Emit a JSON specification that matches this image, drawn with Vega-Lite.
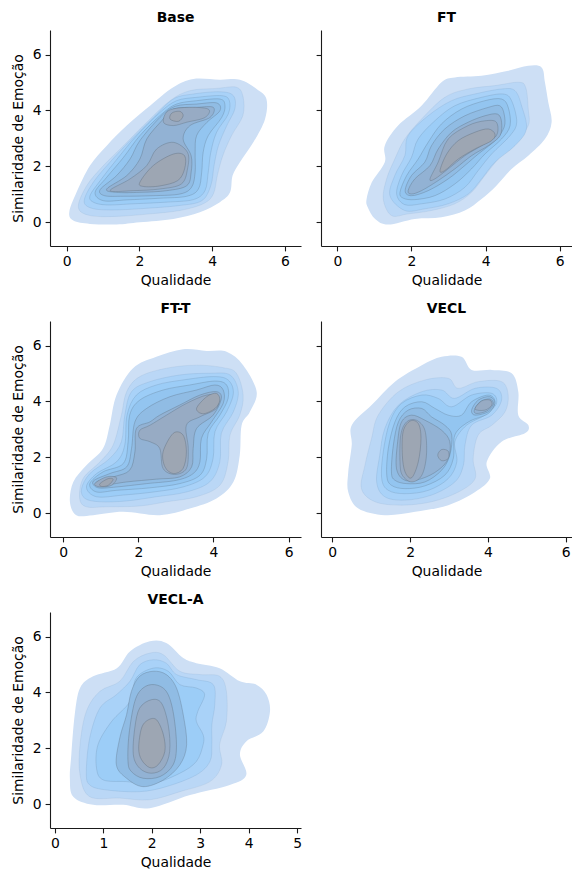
{
"$schema": "https://vega.github.io/schema/vega-lite/v6.json",
"padding": {"left": 11, "top": 11, "right": 0, "bottom": 0},
"datasets": {
"Base": [
{"l":1,"g":"1","x":0.07,"y":0.36},{"l":1,"g":"1","x":0.27,"y":1.07},{"l":1,"g":"1","x":0.64,"y":2.03},{"l":1,"g":"1","x":1.10,"y":2.74},{"l":1,"g":"1","x":1.65,"y":3.46},{"l":1,"g":"1","x":2.29,"y":4.17},{"l":1,"g":"1","x":2.93,"y":4.83},{"l":1,"g":"1","x":3.48,"y":5.13},{"l":1,"g":"1","x":4.21,"y":5.10},{"l":1,"g":"1","x":4.76,"y":5.10},{"l":1,"g":"1","x":5.22,"y":4.77},{"l":1,"g":"1","x":5.49,"y":4.41},{"l":1,"g":"1","x":5.45,"y":3.69},{"l":1,"g":"1","x":5.13,"y":2.86},{"l":1,"g":"1","x":4.76,"y":2.15},{"l":1,"g":"1","x":4.56,"y":1.67},{"l":1,"g":"1","x":4.49,"y":1.07},{"l":1,"g":"1","x":4.21,"y":0.72},{"l":1,"g":"1","x":3.66,"y":0.36},{"l":1,"g":"1","x":2.93,"y":0.12},{"l":1,"g":"1","x":2.01,"y":0.0},{"l":1,"g":"1","x":1.37,"y":-0.08},{"l":1,"g":"1","x":0.64,"y":-0.06},{"l":1,"g":"1","x":0.18,"y":0.06},
{"l":2,"g":"2","x":0.32,"y":0.54},{"l":2,"g":"2","x":0.55,"y":1.31},{"l":2,"g":"2","x":1.01,"y":2.03},{"l":2,"g":"2","x":1.56,"y":2.74},{"l":2,"g":"2","x":2.20,"y":3.58},{"l":2,"g":"2","x":2.84,"y":4.35},{"l":2,"g":"2","x":3.39,"y":4.71},{"l":2,"g":"2","x":4.12,"y":4.79},{"l":2,"g":"2","x":4.67,"y":4.83},{"l":2,"g":"2","x":4.85,"y":4.47},{"l":2,"g":"2","x":4.84,"y":3.81},{"l":2,"g":"2","x":4.53,"y":3.10},{"l":2,"g":"2","x":4.29,"y":2.38},{"l":2,"g":"2","x":4.14,"y":1.67},{"l":2,"g":"2","x":4.03,"y":1.01},{"l":2,"g":"2","x":3.75,"y":0.66},{"l":2,"g":"2","x":3.11,"y":0.42},{"l":2,"g":"2","x":2.29,"y":0.30},{"l":2,"g":"2","x":1.37,"y":0.21},{"l":2,"g":"2","x":0.64,"y":0.24},
{"l":3,"g":"3","x":0.48,"y":0.77},{"l":3,"g":"3","x":0.73,"y":1.43},{"l":3,"g":"3","x":1.19,"y":2.15},{"l":3,"g":"3","x":1.74,"y":2.92},{"l":3,"g":"3","x":2.38,"y":3.75},{"l":3,"g":"3","x":2.93,"y":4.41},{"l":3,"g":"3","x":3.48,"y":4.59},{"l":3,"g":"3","x":4.21,"y":4.67},{"l":3,"g":"3","x":4.58,"y":4.53},{"l":3,"g":"3","x":4.62,"y":4.05},{"l":3,"g":"3","x":4.40,"y":3.46},{"l":3,"g":"3","x":4.17,"y":2.74},{"l":3,"g":"3","x":4.05,"y":2.03},{"l":3,"g":"3","x":3.96,"y":1.31},{"l":3,"g":"3","x":3.71,"y":0.77},{"l":3,"g":"3","x":3.11,"y":0.60},{"l":3,"g":"3","x":2.20,"y":0.50},{"l":3,"g":"3","x":1.28,"y":0.44},{"l":3,"g":"3","x":0.69,"y":0.50},
{"l":4,"g":"4","x":0.64,"y":0.95},{"l":4,"g":"4","x":0.92,"y":1.49},{"l":4,"g":"4","x":1.42,"y":2.32},{"l":4,"g":"4","x":1.92,"y":3.10},{"l":4,"g":"4","x":2.56,"y":3.93},{"l":4,"g":"4","x":3.02,"y":4.35},{"l":4,"g":"4","x":3.57,"y":4.47},{"l":4,"g":"4","x":4.26,"y":4.53},{"l":4,"g":"4","x":4.47,"y":4.35},{"l":4,"g":"4","x":4.44,"y":3.87},{"l":4,"g":"4","x":4.12,"y":3.22},{"l":4,"g":"4","x":3.96,"y":2.50},{"l":4,"g":"4","x":3.89,"y":1.79},{"l":4,"g":"4","x":3.80,"y":1.13},{"l":4,"g":"4","x":3.48,"y":0.81},{"l":4,"g":"4","x":2.75,"y":0.72},{"l":4,"g":"4","x":1.83,"y":0.66},{"l":4,"g":"4","x":1.10,"y":0.62},{"l":4,"g":"4","x":0.73,"y":0.72},
{"l":5,"g":"5","x":0.78,"y":1.07},{"l":5,"g":"5","x":1.10,"y":1.61},{"l":5,"g":"5","x":1.56,"y":2.32},{"l":5,"g":"5","x":2.01,"y":3.10},{"l":5,"g":"5","x":2.61,"y":3.87},{"l":5,"g":"5","x":3.02,"y":4.23},{"l":5,"g":"5","x":3.57,"y":4.35},{"l":5,"g":"5","x":4.21,"y":4.41},{"l":5,"g":"5","x":4.35,"y":4.17},{"l":5,"g":"5","x":4.26,"y":3.75},{"l":5,"g":"5","x":3.89,"y":3.10},{"l":5,"g":"5","x":3.75,"y":2.50},{"l":5,"g":"5","x":3.71,"y":1.79},{"l":5,"g":"5","x":3.62,"y":1.19},{"l":5,"g":"5","x":3.30,"y":0.93},{"l":5,"g":"5","x":2.56,"y":0.86},{"l":5,"g":"5","x":1.65,"y":0.80},{"l":5,"g":"5","x":1.01,"y":0.77},
{"l":6,"g":"6","x":0.92,"y":1.17},{"l":6,"g":"6","x":1.37,"y":1.67},{"l":6,"g":"6","x":1.74,"y":2.26},{"l":6,"g":"6","x":2.01,"y":2.92},{"l":6,"g":"6","x":2.56,"y":3.75},{"l":6,"g":"6","x":2.98,"y":4.15},{"l":6,"g":"6","x":3.57,"y":4.23},{"l":6,"g":"6","x":4.12,"y":4.27},{"l":6,"g":"6","x":4.21,"y":3.99},{"l":6,"g":"6","x":3.85,"y":3.57},{"l":6,"g":"6","x":3.57,"y":3.10},{"l":6,"g":"6","x":3.53,"y":2.50},{"l":6,"g":"6","x":3.53,"y":1.79},{"l":6,"g":"6","x":3.43,"y":1.25},{"l":6,"g":"6","x":3.11,"y":1.01},{"l":6,"g":"6","x":2.38,"y":0.95},{"l":6,"g":"6","x":1.56,"y":0.93},{"l":6,"g":"6","x":1.04,"y":0.95},
{"l":7,"g":"7","x":1.10,"y":1.19},{"l":7,"g":"7","x":1.65,"y":1.67},{"l":7,"g":"7","x":2.01,"y":2.26},{"l":7,"g":"7","x":2.20,"y":2.98},{"l":7,"g":"7","x":2.61,"y":3.63},{"l":7,"g":"7","x":2.93,"y":4.05},{"l":7,"g":"7","x":3.57,"y":4.11},{"l":7,"g":"7","x":4.03,"y":4.11},{"l":7,"g":"7","x":3.94,"y":3.75},{"l":7,"g":"7","x":3.39,"y":3.46},{"l":7,"g":"7","x":3.20,"y":2.98},{"l":7,"g":"7","x":3.42,"y":2.38},{"l":7,"g":"7","x":3.42,"y":1.79},{"l":7,"g":"7","x":3.30,"y":1.31},{"l":7,"g":"7","x":2.75,"y":1.13},{"l":7,"g":"7","x":2.01,"y":1.07},{"l":7,"g":"7","x":1.37,"y":1.07},
{"l":8,"g":"8a","x":2.66,"y":3.58},{"l":8,"g":"8a","x":2.79,"y":3.99},{"l":8,"g":"8a","x":3.30,"y":4.11},{"l":8,"g":"8a","x":3.89,"y":4.05},{"l":8,"g":"8a","x":3.80,"y":3.75},{"l":8,"g":"8a","x":3.30,"y":3.58},{"l":8,"g":"8a","x":2.93,"y":3.46},
{"l":8,"g":"8b","x":1.19,"y":1.13},{"l":8,"g":"8b","x":1.74,"y":1.55},{"l":8,"g":"8b","x":2.20,"y":2.03},{"l":8,"g":"8b","x":2.47,"y":2.62},{"l":8,"g":"8b","x":2.93,"y":2.86},{"l":8,"g":"8b","x":3.32,"y":2.50},{"l":8,"g":"8b","x":3.32,"y":1.91},{"l":8,"g":"8b","x":3.15,"y":1.37},{"l":8,"g":"8b","x":2.56,"y":1.19},{"l":8,"g":"8b","x":1.83,"y":1.13},
{"l":9,"g":"9a","x":2.84,"y":3.69},{"l":9,"g":"9a","x":2.89,"y":3.91},{"l":9,"g":"9a","x":3.11,"y":3.97},{"l":9,"g":"9a","x":3.20,"y":3.81},{"l":9,"g":"9a","x":3.07,"y":3.61},
{"l":9,"g":"9b","x":2.01,"y":1.43},{"l":9,"g":"9b","x":2.38,"y":2.03},{"l":9,"g":"9b","x":2.93,"y":2.44},{"l":9,"g":"9b","x":3.24,"y":2.38},{"l":9,"g":"9b","x":3.24,"y":1.91},{"l":9,"g":"9b","x":3.05,"y":1.49},{"l":9,"g":"9b","x":2.56,"y":1.30},{"l":9,"g":"9b","x":2.11,"y":1.28}
],
"FT": [
{"l":1,"g":"1","x":0.79,"y":0.83},{"l":1,"g":"1","x":0.93,"y":1.43},{"l":1,"g":"1","x":1.28,"y":2.15},{"l":1,"g":"1","x":1.28,"y":2.74},{"l":1,"g":"1","x":1.64,"y":3.46},{"l":1,"g":"1","x":2.27,"y":4.17},{"l":1,"g":"1","x":2.81,"y":5.01},{"l":1,"g":"1","x":3.17,"y":5.18},{"l":1,"g":"1","x":3.89,"y":5.24},{"l":1,"g":"1","x":4.61,"y":5.42},{"l":1,"g":"1","x":5.15,"y":5.60},{"l":1,"g":"1","x":5.51,"y":5.54},{"l":1,"g":"1","x":5.60,"y":5.01},{"l":1,"g":"1","x":5.69,"y":4.29},{"l":1,"g":"1","x":5.78,"y":3.58},{"l":1,"g":"1","x":5.60,"y":2.98},{"l":1,"g":"1","x":5.15,"y":2.38},{"l":1,"g":"1","x":4.70,"y":1.91},{"l":1,"g":"1","x":4.29,"y":1.31},{"l":1,"g":"1","x":3.89,"y":0.83},{"l":1,"g":"1","x":3.44,"y":0.42},{"l":1,"g":"1","x":2.81,"y":0.18},{"l":1,"g":"1","x":2.09,"y":0.12},{"l":1,"g":"1","x":1.37,"y":-0.08},{"l":1,"g":"1","x":1.02,"y":0.12},{"l":1,"g":"1","x":0.82,"y":0.54},
{"l":2,"g":"2","x":1.24,"y":0.83},{"l":2,"g":"2","x":1.33,"y":1.55},{"l":2,"g":"2","x":1.55,"y":2.26},{"l":2,"g":"2","x":1.82,"y":2.98},{"l":2,"g":"2","x":2.27,"y":3.69},{"l":2,"g":"2","x":2.90,"y":4.47},{"l":2,"g":"2","x":3.53,"y":4.77},{"l":2,"g":"2","x":4.25,"y":4.89},{"l":2,"g":"2","x":4.88,"y":5.01},{"l":2,"g":"2","x":5.08,"y":4.83},{"l":2,"g":"2","x":5.15,"y":4.05},{"l":2,"g":"2","x":5.15,"y":3.46},{"l":2,"g":"2","x":4.79,"y":2.86},{"l":2,"g":"2","x":4.34,"y":2.26},{"l":2,"g":"2","x":3.98,"y":1.67},{"l":2,"g":"2","x":3.62,"y":1.07},{"l":2,"g":"2","x":3.17,"y":0.66},{"l":2,"g":"2","x":2.54,"y":0.42},{"l":2,"g":"2","x":1.91,"y":0.30},{"l":2,"g":"2","x":1.46,"y":0.24},
{"l":3,"g":"3","x":1.42,"y":0.95},{"l":3,"g":"3","x":1.55,"y":1.67},{"l":3,"g":"3","x":1.82,"y":2.38},{"l":3,"g":"3","x":1.91,"y":3.10},{"l":3,"g":"3","x":2.45,"y":3.81},{"l":3,"g":"3","x":3.08,"y":4.35},{"l":3,"g":"3","x":3.71,"y":4.59},{"l":3,"g":"3","x":4.43,"y":4.77},{"l":3,"g":"3","x":4.79,"y":4.71},{"l":3,"g":"3","x":4.97,"y":4.17},{"l":3,"g":"3","x":5.10,"y":3.34},{"l":3,"g":"3","x":4.79,"y":2.74},{"l":3,"g":"3","x":4.25,"y":2.15},{"l":3,"g":"3","x":3.89,"y":1.55},{"l":3,"g":"3","x":3.53,"y":1.01},{"l":3,"g":"3","x":2.99,"y":0.66},{"l":3,"g":"3","x":2.36,"y":0.48},{"l":3,"g":"3","x":1.82,"y":0.42},
{"l":4,"g":"4","x":1.60,"y":1.01},{"l":4,"g":"4","x":1.73,"y":1.67},{"l":4,"g":"4","x":2.00,"y":2.32},{"l":4,"g":"4","x":2.18,"y":2.98},{"l":4,"g":"4","x":2.63,"y":3.63},{"l":4,"g":"4","x":3.17,"y":4.17},{"l":4,"g":"4","x":3.89,"y":4.47},{"l":4,"g":"4","x":4.47,"y":4.59},{"l":4,"g":"4","x":4.70,"y":4.35},{"l":4,"g":"4","x":4.84,"y":3.58},{"l":4,"g":"4","x":4.66,"y":3.10},{"l":4,"g":"4","x":4.16,"y":2.44},{"l":4,"g":"4","x":3.80,"y":1.85},{"l":4,"g":"4","x":3.44,"y":1.25},{"l":4,"g":"4","x":2.90,"y":0.83},{"l":4,"g":"4","x":2.27,"y":0.66},{"l":4,"g":"4","x":1.82,"y":0.63},
{"l":5,"g":"5","x":1.69,"y":1.07},{"l":5,"g":"5","x":1.87,"y":1.67},{"l":5,"g":"5","x":2.18,"y":2.26},{"l":5,"g":"5","x":2.45,"y":2.86},{"l":5,"g":"5","x":2.81,"y":3.52},{"l":5,"g":"5","x":3.35,"y":4.05},{"l":5,"g":"5","x":3.98,"y":4.35},{"l":5,"g":"5","x":4.43,"y":4.41},{"l":5,"g":"5","x":4.61,"y":4.11},{"l":5,"g":"5","x":4.66,"y":3.46},{"l":5,"g":"5","x":4.43,"y":2.98},{"l":5,"g":"5","x":3.98,"y":2.44},{"l":5,"g":"5","x":3.62,"y":1.91},{"l":5,"g":"5","x":3.17,"y":1.37},{"l":5,"g":"5","x":2.63,"y":0.95},{"l":5,"g":"5","x":2.09,"y":0.81},{"l":5,"g":"5","x":1.78,"y":0.86},
{"l":6,"g":"6","x":1.83,"y":1.13},{"l":6,"g":"6","x":2.00,"y":1.67},{"l":6,"g":"6","x":2.36,"y":2.15},{"l":6,"g":"6","x":2.54,"y":2.74},{"l":6,"g":"6","x":2.90,"y":3.34},{"l":6,"g":"6","x":3.44,"y":3.81},{"l":6,"g":"6","x":4.07,"y":4.11},{"l":6,"g":"6","x":4.38,"y":4.17},{"l":6,"g":"6","x":4.50,"y":3.87},{"l":6,"g":"6","x":4.50,"y":3.40},{"l":6,"g":"6","x":4.25,"y":2.92},{"l":6,"g":"6","x":3.80,"y":2.44},{"l":6,"g":"6","x":3.44,"y":2.03},{"l":6,"g":"6","x":2.99,"y":1.55},{"l":6,"g":"6","x":2.45,"y":1.13},{"l":6,"g":"6","x":2.00,"y":0.95},
{"l":7,"g":"7","x":1.91,"y":1.13},{"l":7,"g":"7","x":2.09,"y":1.55},{"l":7,"g":"7","x":2.50,"y":2.03},{"l":7,"g":"7","x":2.72,"y":2.62},{"l":7,"g":"7","x":3.08,"y":3.22},{"l":7,"g":"7","x":3.53,"y":3.58},{"l":7,"g":"7","x":3.98,"y":3.81},{"l":7,"g":"7","x":4.32,"y":3.87},{"l":7,"g":"7","x":4.43,"y":3.58},{"l":7,"g":"7","x":4.39,"y":3.10},{"l":7,"g":"7","x":4.07,"y":2.74},{"l":7,"g":"7","x":3.62,"y":2.38},{"l":7,"g":"7","x":3.17,"y":1.91},{"l":7,"g":"7","x":2.72,"y":1.49},{"l":7,"g":"7","x":2.27,"y":1.13},{"l":7,"g":"7","x":2.00,"y":1.01},
{"l":8,"g":"8","x":2.50,"y":1.55},{"l":8,"g":"8","x":2.72,"y":2.15},{"l":8,"g":"8","x":2.99,"y":2.98},{"l":8,"g":"8","x":3.53,"y":3.46},{"l":8,"g":"8","x":3.98,"y":3.63},{"l":8,"g":"8","x":4.29,"y":3.58},{"l":8,"g":"8","x":4.29,"y":3.10},{"l":8,"g":"8","x":3.89,"y":2.74},{"l":8,"g":"8","x":3.44,"y":2.38},{"l":8,"g":"8","x":2.99,"y":1.91},{"l":8,"g":"8","x":2.63,"y":1.55},
{"l":9,"g":"9","x":2.77,"y":1.85},{"l":9,"g":"9","x":2.95,"y":2.44},{"l":9,"g":"9","x":3.26,"y":2.92},{"l":9,"g":"9","x":3.71,"y":3.22},{"l":9,"g":"9","x":4.07,"y":3.34},{"l":9,"g":"9","x":4.25,"y":3.16},{"l":9,"g":"9","x":4.16,"y":2.92},{"l":9,"g":"9","x":3.71,"y":2.62},{"l":9,"g":"9","x":3.26,"y":2.26},{"l":9,"g":"9","x":2.90,"y":1.85}
],
"FTT": [
{"l":1,"g":"1","x":0.18,"y":0.41},{"l":1,"g":"1","x":0.27,"y":1.12},{"l":1,"g":"1","x":0.62,"y":1.72},{"l":1,"g":"1","x":1.06,"y":2.32},{"l":1,"g":"1","x":1.24,"y":3.15},{"l":1,"g":"1","x":1.42,"y":4.23},{"l":1,"g":"1","x":1.86,"y":5.19},{"l":1,"g":"1","x":2.48,"y":5.60},{"l":1,"g":"1","x":3.19,"y":5.87},{"l":1,"g":"1","x":3.82,"y":5.81},{"l":1,"g":"1","x":4.35,"y":5.78},{"l":1,"g":"1","x":4.79,"y":5.30},{"l":1,"g":"1","x":5.15,"y":4.35},{"l":1,"g":"1","x":4.97,"y":3.63},{"l":1,"g":"1","x":4.75,"y":3.15},{"l":1,"g":"1","x":4.70,"y":2.08},{"l":1,"g":"1","x":4.53,"y":1.12},{"l":1,"g":"1","x":4.08,"y":0.53},{"l":1,"g":"1","x":3.37,"y":0.17},{"l":1,"g":"1","x":2.57,"y":-0.07},{"l":1,"g":"1","x":1.60,"y":0.05},{"l":1,"g":"1","x":0.80,"y":-0.07},{"l":1,"g":"1","x":0.35,"y":-0.07},
{"l":2,"g":"2","x":0.44,"y":0.53},{"l":2,"g":"2","x":0.53,"y":1.24},{"l":2,"g":"2","x":0.98,"y":1.84},{"l":2,"g":"2","x":1.33,"y":2.44},{"l":2,"g":"2","x":1.55,"y":3.51},{"l":2,"g":"2","x":1.69,"y":4.35},{"l":2,"g":"2","x":2.04,"y":4.89},{"l":2,"g":"2","x":2.75,"y":5.19},{"l":2,"g":"2","x":3.55,"y":5.30},{"l":2,"g":"2","x":4.26,"y":5.21},{"l":2,"g":"2","x":4.61,"y":5.01},{"l":2,"g":"2","x":4.79,"y":4.23},{"l":2,"g":"2","x":4.70,"y":3.51},{"l":2,"g":"2","x":4.44,"y":2.80},{"l":2,"g":"2","x":4.39,"y":1.84},{"l":2,"g":"2","x":4.17,"y":1.00},{"l":2,"g":"2","x":3.55,"y":0.59},{"l":2,"g":"2","x":2.75,"y":0.41},{"l":2,"g":"2","x":2.04,"y":0.26},{"l":2,"g":"2","x":1.15,"y":0.23},{"l":2,"g":"2","x":0.62,"y":0.23},
{"l":3,"g":"3","x":0.49,"y":0.88},{"l":3,"g":"3","x":0.71,"y":1.42},{"l":3,"g":"3","x":1.24,"y":1.96},{"l":3,"g":"3","x":1.55,"y":2.56},{"l":3,"g":"3","x":1.64,"y":3.51},{"l":3,"g":"3","x":1.82,"y":4.35},{"l":3,"g":"3","x":2.31,"y":4.71},{"l":3,"g":"3","x":3.11,"y":4.95},{"l":3,"g":"3","x":3.90,"y":5.01},{"l":3,"g":"3","x":4.44,"y":4.95},{"l":3,"g":"3","x":4.66,"y":4.35},{"l":3,"g":"3","x":4.53,"y":3.63},{"l":3,"g":"3","x":4.21,"y":2.86},{"l":3,"g":"3","x":4.17,"y":1.84},{"l":3,"g":"3","x":3.90,"y":1.12},{"l":3,"g":"3","x":3.28,"y":0.76},{"l":3,"g":"3","x":2.48,"y":0.59},{"l":3,"g":"3","x":1.69,"y":0.44},{"l":3,"g":"3","x":0.98,"y":0.41},{"l":3,"g":"3","x":0.58,"y":0.53},
{"l":4,"g":"4","x":0.62,"y":0.94},{"l":4,"g":"4","x":0.89,"y":1.42},{"l":4,"g":"4","x":1.42,"y":1.84},{"l":4,"g":"4","x":1.64,"y":2.44},{"l":4,"g":"4","x":1.70,"y":3.51},{"l":4,"g":"4","x":1.95,"y":4.23},{"l":4,"g":"4","x":2.48,"y":4.59},{"l":4,"g":"4","x":3.19,"y":4.77},{"l":4,"g":"4","x":3.99,"y":4.89},{"l":4,"g":"4","x":4.39,"y":4.77},{"l":4,"g":"4","x":4.53,"y":4.30},{"l":4,"g":"4","x":4.35,"y":3.63},{"l":4,"g":"4","x":4.04,"y":2.92},{"l":4,"g":"4","x":3.99,"y":1.96},{"l":4,"g":"4","x":3.77,"y":1.30},{"l":4,"g":"4","x":3.19,"y":0.94},{"l":4,"g":"4","x":2.40,"y":0.76},{"l":4,"g":"4","x":1.60,"y":0.65},{"l":4,"g":"4","x":0.89,"y":0.59},
{"l":5,"g":"5","x":0.71,"y":1.06},{"l":5,"g":"5","x":1.06,"y":1.48},{"l":5,"g":"5","x":1.60,"y":1.78},{"l":5,"g":"5","x":1.73,"y":2.56},{"l":5,"g":"5","x":1.77,"y":3.51},{"l":5,"g":"5","x":2.04,"y":4.05},{"l":5,"g":"5","x":2.66,"y":4.41},{"l":5,"g":"5","x":3.37,"y":4.59},{"l":5,"g":"5","x":4.04,"y":4.73},{"l":5,"g":"5","x":4.35,"y":4.59},{"l":5,"g":"5","x":4.39,"y":4.11},{"l":5,"g":"5","x":4.17,"y":3.51},{"l":5,"g":"5","x":3.86,"y":2.86},{"l":5,"g":"5","x":3.82,"y":1.96},{"l":5,"g":"5","x":3.64,"y":1.36},{"l":5,"g":"5","x":3.10,"y":1.06},{"l":5,"g":"5","x":2.31,"y":0.91},{"l":5,"g":"5","x":1.42,"y":0.82},{"l":5,"g":"5","x":0.89,"y":0.76},
{"l":6,"g":"6","x":0.80,"y":1.15},{"l":6,"g":"6","x":1.24,"y":1.42},{"l":6,"g":"6","x":1.69,"y":1.66},{"l":6,"g":"6","x":1.82,"y":2.32},{"l":6,"g":"6","x":1.91,"y":3.27},{"l":6,"g":"6","x":2.22,"y":3.75},{"l":6,"g":"6","x":2.84,"y":4.17},{"l":6,"g":"6","x":3.55,"y":4.41},{"l":6,"g":"6","x":4.04,"y":4.59},{"l":6,"g":"6","x":4.26,"y":4.41},{"l":6,"g":"6","x":4.26,"y":3.93},{"l":6,"g":"6","x":3.95,"y":3.27},{"l":6,"g":"6","x":3.68,"y":2.68},{"l":6,"g":"6","x":3.64,"y":1.84},{"l":6,"g":"6","x":3.46,"y":1.42},{"l":6,"g":"6","x":3.02,"y":1.18},{"l":6,"g":"6","x":2.22,"y":1.06},{"l":6,"g":"6","x":1.42,"y":0.94},{"l":6,"g":"6","x":0.93,"y":0.91},
{"l":7,"g":"7","x":0.89,"y":1.12},{"l":7,"g":"7","x":1.33,"y":1.30},{"l":7,"g":"7","x":1.77,"y":1.54},{"l":7,"g":"7","x":1.91,"y":2.20},{"l":7,"g":"7","x":1.95,"y":3.03},{"l":7,"g":"7","x":2.31,"y":3.27},{"l":7,"g":"7","x":2.57,"y":3.51},{"l":7,"g":"7","x":3.10,"y":3.87},{"l":7,"g":"7","x":3.64,"y":4.23},{"l":7,"g":"7","x":4.08,"y":4.35},{"l":7,"g":"7","x":4.21,"y":4.11},{"l":7,"g":"7","x":3.99,"y":3.51},{"l":7,"g":"7","x":3.55,"y":3.03},{"l":7,"g":"7","x":3.46,"y":2.32},{"l":7,"g":"7","x":3.42,"y":1.66},{"l":7,"g":"7","x":3.10,"y":1.30},{"l":7,"g":"7","x":2.48,"y":1.22},{"l":7,"g":"7","x":1.69,"y":1.12},{"l":7,"g":"7","x":1.06,"y":1.00},
{"l":8,"g":"8a","x":2.04,"y":2.97},{"l":8,"g":"8a","x":2.31,"y":3.15},{"l":8,"g":"8a","x":2.75,"y":3.51},{"l":8,"g":"8a","x":3.28,"y":3.93},{"l":8,"g":"8a","x":3.82,"y":4.23},{"l":8,"g":"8a","x":4.12,"y":4.17},{"l":8,"g":"8a","x":4.08,"y":3.75},{"l":8,"g":"8a","x":3.64,"y":3.45},{"l":8,"g":"8a","x":3.28,"y":3.15},{"l":8,"g":"8a","x":3.33,"y":2.32},{"l":8,"g":"8a","x":3.28,"y":1.60},{"l":8,"g":"8a","x":2.97,"y":1.39},{"l":8,"g":"8a","x":2.66,"y":1.60},{"l":8,"g":"8a","x":2.57,"y":2.32},{"l":8,"g":"8a","x":2.31,"y":2.56},{"l":8,"g":"8a","x":2.04,"y":2.68},
{"l":8,"g":"8b","x":0.84,"y":1.06},{"l":8,"g":"8b","x":1.15,"y":1.30},{"l":8,"g":"8b","x":1.42,"y":1.27},{"l":8,"g":"8b","x":1.29,"y":1.00},{"l":8,"g":"8b","x":0.98,"y":0.94},
{"l":9,"g":"9a","x":3.55,"y":3.75},{"l":9,"g":"9a","x":3.82,"y":4.17},{"l":9,"g":"9a","x":4.08,"y":4.29},{"l":9,"g":"9a","x":4.17,"y":4.05},{"l":9,"g":"9a","x":4.04,"y":3.75},{"l":9,"g":"9a","x":3.73,"y":3.56},
{"l":9,"g":"9b","x":2.66,"y":2.20},{"l":9,"g":"9b","x":2.93,"y":2.86},{"l":9,"g":"9b","x":3.19,"y":2.80},{"l":9,"g":"9b","x":3.28,"y":2.20},{"l":9,"g":"9b","x":3.19,"y":1.60},{"l":9,"g":"9b","x":2.93,"y":1.42},{"l":9,"g":"9b","x":2.71,"y":1.66},
{"l":9,"g":"9c","x":0.98,"y":1.06},{"l":9,"g":"9c","x":1.20,"y":1.24},{"l":9,"g":"9c","x":1.33,"y":1.21},{"l":9,"g":"9c","x":1.20,"y":1.00},{"l":9,"g":"9c","x":1.02,"y":0.96}
],
"VECL": [
{"l":1,"g":"1","x":0.41,"y":0.76},{"l":1,"g":"1","x":0.41,"y":1.48},{"l":1,"g":"1","x":0.50,"y":2.44},{"l":1,"g":"1","x":0.50,"y":3.15},{"l":1,"g":"1","x":1.01,"y":3.87},{"l":1,"g":"1","x":1.61,"y":4.71},{"l":1,"g":"1","x":2.30,"y":5.30},{"l":1,"g":"1","x":2.81,"y":5.60},{"l":1,"g":"1","x":3.32,"y":5.60},{"l":1,"g":"1","x":3.58,"y":5.13},{"l":1,"g":"1","x":4.10,"y":5.13},{"l":1,"g":"1","x":4.61,"y":5.01},{"l":1,"g":"1","x":4.78,"y":4.35},{"l":1,"g":"1","x":4.78,"y":3.51},{"l":1,"g":"1","x":5.04,"y":3.15},{"l":1,"g":"1","x":4.95,"y":2.86},{"l":1,"g":"1","x":4.35,"y":2.56},{"l":1,"g":"1","x":3.97,"y":1.84},{"l":1,"g":"1","x":4.05,"y":1.24},{"l":1,"g":"1","x":3.67,"y":0.76},{"l":1,"g":"1","x":2.98,"y":0.29},{"l":1,"g":"1","x":2.13,"y":0.05},{"l":1,"g":"1","x":1.35,"y":-0.07},{"l":1,"g":"1","x":0.67,"y":0.17},
{"l":2,"g":"2","x":0.75,"y":0.88},{"l":2,"g":"2","x":0.84,"y":1.72},{"l":2,"g":"2","x":1.01,"y":2.68},{"l":2,"g":"2","x":1.18,"y":3.51},{"l":2,"g":"2","x":1.70,"y":4.35},{"l":2,"g":"2","x":2.38,"y":4.77},{"l":2,"g":"2","x":2.98,"y":4.83},{"l":2,"g":"2","x":3.23,"y":4.47},{"l":2,"g":"2","x":3.75,"y":4.71},{"l":2,"g":"2","x":4.35,"y":4.71},{"l":2,"g":"2","x":4.52,"y":4.23},{"l":2,"g":"2","x":4.44,"y":3.63},{"l":2,"g":"2","x":4.10,"y":3.15},{"l":2,"g":"2","x":3.75,"y":2.80},{"l":2,"g":"2","x":3.62,"y":1.96},{"l":2,"g":"2","x":3.67,"y":1.24},{"l":2,"g":"2","x":3.24,"y":0.76},{"l":2,"g":"2","x":2.55,"y":0.41},{"l":2,"g":"2","x":1.78,"y":0.29},{"l":2,"g":"2","x":1.10,"y":0.41},
{"l":3,"g":"3","x":1.14,"y":1.12},{"l":3,"g":"3","x":1.22,"y":2.08},{"l":3,"g":"3","x":1.35,"y":3.03},{"l":3,"g":"3","x":1.70,"y":3.87},{"l":3,"g":"3","x":2.30,"y":4.35},{"l":3,"g":"3","x":2.81,"y":4.41},{"l":3,"g":"3","x":3.14,"y":4.11},{"l":3,"g":"3","x":3.67,"y":4.47},{"l":3,"g":"3","x":4.22,"y":4.47},{"l":3,"g":"3","x":4.35,"y":4.05},{"l":3,"g":"3","x":4.10,"y":3.51},{"l":3,"g":"3","x":3.58,"y":3.15},{"l":3,"g":"3","x":3.41,"y":2.44},{"l":3,"g":"3","x":3.37,"y":1.72},{"l":3,"g":"3","x":3.15,"y":1.12},{"l":3,"g":"3","x":2.55,"y":0.65},{"l":3,"g":"3","x":1.87,"y":0.47},{"l":3,"g":"3","x":1.35,"y":0.59},
{"l":4,"g":"4","x":1.27,"y":1.24},{"l":4,"g":"4","x":1.31,"y":2.20},{"l":4,"g":"4","x":1.48,"y":3.27},{"l":4,"g":"4","x":1.78,"y":3.93},{"l":4,"g":"4","x":2.30,"y":4.23},{"l":4,"g":"4","x":2.72,"y":4.11},{"l":4,"g":"4","x":3.07,"y":3.81},{"l":4,"g":"4","x":3.58,"y":4.23},{"l":4,"g":"4","x":4.10,"y":4.29},{"l":4,"g":"4","x":4.22,"y":3.93},{"l":4,"g":"4","x":3.92,"y":3.51},{"l":4,"g":"4","x":3.45,"y":3.15},{"l":4,"g":"4","x":3.15,"y":2.56},{"l":4,"g":"4","x":3.20,"y":1.84},{"l":4,"g":"4","x":2.98,"y":1.24},{"l":4,"g":"4","x":2.47,"y":0.82},{"l":4,"g":"4","x":1.87,"y":0.70},{"l":4,"g":"4","x":1.44,"y":0.82},
{"l":5,"g":"5","x":1.40,"y":1.36},{"l":5,"g":"5","x":1.44,"y":2.32},{"l":5,"g":"5","x":1.61,"y":3.27},{"l":5,"g":"5","x":1.87,"y":3.81},{"l":5,"g":"5","x":2.30,"y":3.99},{"l":5,"g":"5","x":2.64,"y":3.75},{"l":5,"g":"5","x":2.98,"y":3.51},{"l":5,"g":"5","x":3.32,"y":3.51},{"l":5,"g":"5","x":3.58,"y":3.99},{"l":5,"g":"5","x":4.01,"y":4.23},{"l":5,"g":"5","x":4.18,"y":3.99},{"l":5,"g":"5","x":4.01,"y":3.57},{"l":5,"g":"5","x":3.50,"y":3.27},{"l":5,"g":"5","x":3.15,"y":2.80},{"l":5,"g":"5","x":3.11,"y":1.96},{"l":5,"g":"5","x":2.89,"y":1.36},{"l":5,"g":"5","x":2.38,"y":0.98},{"l":5,"g":"5","x":1.87,"y":0.88},{"l":5,"g":"5","x":1.52,"y":1.00},
{"l":6,"g":"6a","x":1.52,"y":1.48},{"l":6,"g":"6a","x":1.57,"y":2.44},{"l":6,"g":"6a","x":1.70,"y":3.27},{"l":6,"g":"6a","x":1.95,"y":3.69},{"l":6,"g":"6a","x":2.30,"y":3.75},{"l":6,"g":"6a","x":2.55,"y":3.45},{"l":6,"g":"6a","x":2.89,"y":3.15},{"l":6,"g":"6a","x":3.07,"y":2.80},{"l":6,"g":"6a","x":3.02,"y":2.08},{"l":6,"g":"6a","x":2.81,"y":1.54},{"l":6,"g":"6a","x":2.38,"y":1.12},{"l":6,"g":"6a","x":1.91,"y":1.06},{"l":6,"g":"6a","x":1.61,"y":1.18},
{"l":6,"g":"6b","x":3.58,"y":3.69},{"l":6,"g":"6b","x":3.75,"y":4.05},{"l":6,"g":"6b","x":4.05,"y":4.17},{"l":6,"g":"6b","x":4.18,"y":3.93},{"l":6,"g":"6b","x":4.01,"y":3.63},{"l":6,"g":"6b","x":3.67,"y":3.51},
{"l":7,"g":"7a","x":1.65,"y":1.60},{"l":7,"g":"7a","x":1.68,"y":2.56},{"l":7,"g":"7a","x":1.78,"y":3.27},{"l":7,"g":"7a","x":2.04,"y":3.51},{"l":7,"g":"7a","x":2.38,"y":3.33},{"l":7,"g":"7a","x":2.81,"y":2.97},{"l":7,"g":"7a","x":3.02,"y":2.56},{"l":7,"g":"7a","x":2.98,"y":1.96},{"l":7,"g":"7a","x":2.72,"y":1.54},{"l":7,"g":"7a","x":2.30,"y":1.24},{"l":7,"g":"7a","x":1.87,"y":1.18},
{"l":7,"g":"7b","x":3.65,"y":3.69},{"l":7,"g":"7b","x":3.80,"y":3.99},{"l":7,"g":"7b","x":4.05,"y":4.09},{"l":7,"g":"7b","x":4.14,"y":3.90},{"l":7,"g":"7b","x":3.97,"y":3.66},{"l":7,"g":"7b","x":3.71,"y":3.57},
{"l":8,"g":"8a","x":1.74,"y":1.84},{"l":8,"g":"8a","x":1.76,"y":2.80},{"l":8,"g":"8a","x":1.91,"y":3.27},{"l":8,"g":"8a","x":2.16,"y":3.33},{"l":8,"g":"8a","x":2.38,"y":2.97},{"l":8,"g":"8a","x":2.42,"y":2.08},{"l":8,"g":"8a","x":2.30,"y":1.36},{"l":8,"g":"8a","x":2.04,"y":1.12},{"l":8,"g":"8a","x":1.80,"y":1.36},
{"l":8,"g":"8b","x":2.71,"y":2.08},{"l":8,"g":"8b","x":2.81,"y":2.28},{"l":8,"g":"8b","x":2.98,"y":2.22},{"l":8,"g":"8b","x":2.98,"y":1.96},{"l":8,"g":"8b","x":2.81,"y":1.88},
{"l":8,"g":"8c","x":3.67,"y":3.73},{"l":8,"g":"8c","x":3.84,"y":4.02},{"l":8,"g":"8c","x":4.05,"y":4.05},{"l":8,"g":"8c","x":4.10,"y":3.87},{"l":8,"g":"8c","x":3.92,"y":3.69},
{"l":9,"g":"9","x":1.80,"y":2.08},{"l":9,"g":"9","x":1.82,"y":2.92},{"l":9,"g":"9","x":2.00,"y":3.30},{"l":9,"g":"9","x":2.21,"y":3.21},{"l":9,"g":"9","x":2.28,"y":2.68},{"l":9,"g":"9","x":2.21,"y":1.84},{"l":9,"g":"9","x":2.04,"y":1.27},{"l":9,"g":"9","x":1.87,"y":1.48}
],
"VECLA": [
{"l":1,"g":"1","x":0.31,"y":0.93},{"l":1,"g":"1","x":0.34,"y":1.77},{"l":1,"g":"1","x":0.41,"y":3.20},{"l":1,"g":"1","x":0.52,"y":4.16},{"l":1,"g":"1","x":0.79,"y":4.58},{"l":1,"g":"1","x":1.28,"y":4.87},{"l":1,"g":"1","x":1.55,"y":5.47},{"l":1,"g":"1","x":1.96,"y":5.83},{"l":1,"g":"1","x":2.30,"y":5.77},{"l":1,"g":"1","x":2.65,"y":5.23},{"l":1,"g":"1","x":2.92,"y":5.05},{"l":1,"g":"1","x":3.40,"y":4.87},{"l":1,"g":"1","x":3.82,"y":4.40},{"l":1,"g":"1","x":4.16,"y":4.28},{"l":1,"g":"1","x":4.37,"y":3.92},{"l":1,"g":"1","x":4.44,"y":3.32},{"l":1,"g":"1","x":4.30,"y":2.60},{"l":1,"g":"1","x":3.95,"y":2.25},{"l":1,"g":"1","x":3.82,"y":1.77},{"l":1,"g":"1","x":3.95,"y":1.05},{"l":1,"g":"1","x":3.61,"y":0.69},{"l":1,"g":"1","x":2.79,"y":0.33},{"l":1,"g":"1","x":1.96,"y":-0.14},{"l":1,"g":"1","x":1.41,"y":-0.02},{"l":1,"g":"1","x":0.79,"y":-0.02},{"l":1,"g":"1","x":0.38,"y":0.27},
{"l":2,"g":"2","x":0.52,"y":1.05},{"l":2,"g":"2","x":0.52,"y":2.13},{"l":2,"g":"2","x":0.65,"y":3.32},{"l":2,"g":"2","x":0.93,"y":4.04},{"l":2,"g":"2","x":1.34,"y":4.40},{"l":2,"g":"2","x":1.62,"y":5.11},{"l":2,"g":"2","x":1.96,"y":5.41},{"l":2,"g":"2","x":2.24,"y":5.35},{"l":2,"g":"2","x":2.58,"y":4.76},{"l":2,"g":"2","x":3.00,"y":4.64},{"l":2,"g":"2","x":3.40,"y":4.58},{"l":2,"g":"2","x":3.54,"y":4.04},{"l":2,"g":"2","x":3.54,"y":2.96},{"l":2,"g":"2","x":3.40,"y":2.13},{"l":2,"g":"2","x":3.44,"y":1.41},{"l":2,"g":"2","x":3.20,"y":0.81},{"l":2,"g":"2","x":2.58,"y":0.45},{"l":2,"g":"2","x":1.96,"y":0.16},{"l":2,"g":"2","x":1.34,"y":0.22},{"l":2,"g":"2","x":0.72,"y":0.27},
{"l":3,"g":"3","x":0.65,"y":1.17},{"l":3,"g":"3","x":0.72,"y":2.37},{"l":3,"g":"3","x":0.93,"y":3.44},{"l":3,"g":"3","x":1.27,"y":3.92},{"l":3,"g":"3","x":1.55,"y":4.40},{"l":3,"g":"3","x":1.75,"y":4.99},{"l":3,"g":"3","x":2.03,"y":5.17},{"l":3,"g":"3","x":2.30,"y":5.05},{"l":3,"g":"3","x":2.51,"y":4.64},{"l":3,"g":"3","x":2.92,"y":4.46},{"l":3,"g":"3","x":3.27,"y":4.28},{"l":3,"g":"3","x":3.30,"y":3.56},{"l":3,"g":"3","x":3.24,"y":2.84},{"l":3,"g":"3","x":3.24,"y":2.13},{"l":3,"g":"3","x":3.20,"y":1.53},{"l":3,"g":"3","x":2.92,"y":1.05},{"l":3,"g":"3","x":2.30,"y":0.63},{"l":3,"g":"3","x":1.75,"y":0.45},{"l":3,"g":"3","x":1.07,"y":0.51},{"l":3,"g":"3","x":0.72,"y":0.69},
{"l":4,"g":"4","x":0.86,"y":1.29},{"l":4,"g":"4","x":0.89,"y":2.13},{"l":4,"g":"4","x":1.17,"y":2.96},{"l":4,"g":"4","x":1.55,"y":3.68},{"l":4,"g":"4","x":1.68,"y":4.52},{"l":4,"g":"4","x":2.03,"y":4.87},{"l":4,"g":"4","x":2.34,"y":4.76},{"l":4,"g":"4","x":2.58,"y":4.28},{"l":4,"g":"4","x":2.92,"y":4.16},{"l":4,"g":"4","x":3.09,"y":3.92},{"l":4,"g":"4","x":2.95,"y":3.32},{"l":4,"g":"4","x":2.92,"y":2.96},{"l":4,"g":"4","x":3.06,"y":2.49},{"l":4,"g":"4","x":3.06,"y":2.13},{"l":4,"g":"4","x":2.92,"y":1.53},{"l":4,"g":"4","x":2.58,"y":1.11},{"l":4,"g":"4","x":2.03,"y":0.75},{"l":4,"g":"4","x":1.48,"y":0.81},{"l":4,"g":"4","x":1.00,"y":0.87},
{"l":6,"g":"5","x":1.27,"y":1.41},{"l":6,"g":"5","x":1.34,"y":2.37},{"l":6,"g":"5","x":1.48,"y":3.20},{"l":6,"g":"5","x":1.58,"y":4.04},{"l":6,"g":"5","x":1.75,"y":4.58},{"l":6,"g":"5","x":2.03,"y":4.76},{"l":6,"g":"5","x":2.30,"y":4.64},{"l":6,"g":"5","x":2.51,"y":4.16},{"l":6,"g":"5","x":2.65,"y":3.20},{"l":6,"g":"5","x":2.72,"y":2.13},{"l":6,"g":"5","x":2.58,"y":1.41},{"l":6,"g":"5","x":2.24,"y":0.87},{"l":6,"g":"5","x":1.82,"y":0.63},{"l":6,"g":"5","x":1.48,"y":0.93},
{"l":7,"g":"6","x":1.51,"y":1.53},{"l":7,"g":"6","x":1.53,"y":2.49},{"l":7,"g":"6","x":1.65,"y":3.68},{"l":7,"g":"6","x":1.82,"y":4.16},{"l":7,"g":"6","x":2.06,"y":4.28},{"l":7,"g":"6","x":2.30,"y":4.04},{"l":7,"g":"6","x":2.44,"y":3.32},{"l":7,"g":"6","x":2.51,"y":2.13},{"l":7,"g":"6","x":2.44,"y":1.41},{"l":7,"g":"6","x":2.17,"y":0.99},{"l":7,"g":"6","x":1.82,"y":0.93},{"l":7,"g":"6","x":1.58,"y":1.17},
{"l":8,"g":"7","x":1.62,"y":1.77},{"l":8,"g":"7","x":1.65,"y":2.73},{"l":8,"g":"7","x":1.75,"y":3.44},{"l":8,"g":"7","x":1.99,"y":3.74},{"l":8,"g":"7","x":2.20,"y":3.62},{"l":8,"g":"7","x":2.34,"y":2.84},{"l":8,"g":"7","x":2.37,"y":1.89},{"l":8,"g":"7","x":2.24,"y":1.29},{"l":8,"g":"7","x":1.99,"y":1.11},{"l":8,"g":"7","x":1.75,"y":1.29},
{"l":9,"g":"8","x":1.73,"y":2.01},{"l":9,"g":"8","x":1.79,"y":2.73},{"l":9,"g":"8","x":1.93,"y":3.02},{"l":9,"g":"8","x":2.10,"y":3.02},{"l":9,"g":"8","x":2.24,"y":2.49},{"l":9,"g":"8","x":2.27,"y":1.89},{"l":9,"g":"8","x":2.13,"y":1.41},{"l":9,"g":"8","x":1.96,"y":1.31},{"l":9,"g":"8","x":1.79,"y":1.59}
]
},
"concat": [
{"data": {"name": "Base"}, "width": 251, "height": 216, "title": "Base",
 "mark": {"type": "line", "interpolate": "cardinal-closed", "strokeWidth": 0.7},
 "encoding": {
  "x": {"field": "x", "type": "quantitative", "scale": {"domain": [-0.46, 6.44], "nice": false, "zero": false}, "axis": {"values": [0, 2, 4, 6], "title": "Qualidade"}},
  "y": {"field": "y", "type": "quantitative", "scale": {"domain": [-0.85, 6.88], "nice": false, "zero": false}, "axis": {"values": [0, 2, 4, 6], "title": "Similaridade de Emoção"}},
  "fill": {"field": "l", "type": "ordinal", "scale": {"domain": [1,2,3,4,5,6,7,8,9], "range": ["#cddff5","#bad7f6","#a9d2f8","#9ccdf7","#93c5f0","#90bce4","#92b2d4","#97abc4","#9da6b3"]}, "legend": null},
  "stroke": {"field": "l", "type": "ordinal", "scale": {"domain": [1,2,3,4,5,6,7,8,9], "range": ["rgba(0,0,0,0)","rgba(90,130,170,0.15)","rgba(90,130,170,0.22)","rgba(90,120,150,0.3)","rgba(90,110,130,0.4)","rgba(90,105,120,0.45)","rgba(90,105,120,0.5)","rgba(90,105,120,0.5)","rgba(90,105,120,0.55)"]}, "legend": null},
  "detail": {"field": "g"},
  "order": {"value": null}
 }},
{"data": {"name": "FT"}, "width": 251, "height": 216, "title": "FT",
 "mark": {"type": "line", "interpolate": "cardinal-closed", "strokeWidth": 0.7},
 "encoding": {
  "x": {"field": "x", "type": "quantitative", "scale": {"domain": [-0.44, 6.33], "nice": false, "zero": false}, "axis": {"values": [0, 2, 4, 6], "title": "Qualidade"}},
  "y": {"field": "y", "type": "quantitative", "scale": {"domain": [-0.85, 6.88], "nice": false, "zero": false}, "axis": {"values": [0, 2, 4, 6], "title": null, "labels": false}},
  "fill": {"field": "l", "type": "ordinal", "scale": {"domain": [1,2,3,4,5,6,7,8,9], "range": ["#cddff5","#bad7f6","#a9d2f8","#9ccdf7","#93c5f0","#90bce4","#92b2d4","#97abc4","#9da6b3"]}, "legend": null},
  "stroke": {"field": "l", "type": "ordinal", "scale": {"domain": [1,2,3,4,5,6,7,8,9], "range": ["rgba(0,0,0,0)","rgba(90,130,170,0.15)","rgba(90,130,170,0.22)","rgba(90,120,150,0.3)","rgba(90,110,130,0.4)","rgba(90,105,120,0.45)","rgba(90,105,120,0.5)","rgba(90,105,120,0.5)","rgba(90,105,120,0.55)"]}, "legend": null},
  "detail": {"field": "g"},
  "order": {"value": null}
 }},
{"data": {"name": "FTT"}, "width": 251, "height": 216, "title": "FT-T",
 "mark": {"type": "line", "interpolate": "cardinal-closed", "strokeWidth": 0.7},
 "encoding": {
  "x": {"field": "x", "type": "quantitative", "scale": {"domain": [-0.35, 6.33], "nice": false, "zero": false}, "axis": {"values": [0, 2, 4, 6], "title": "Qualidade"}},
  "y": {"field": "y", "type": "quantitative", "scale": {"domain": [-0.85, 6.88], "nice": false, "zero": false}, "axis": {"values": [0, 2, 4, 6], "title": "Similaridade de Emoção"}},
  "fill": {"field": "l", "type": "ordinal", "scale": {"domain": [1,2,3,4,5,6,7,8,9], "range": ["#cddff5","#bad7f6","#a9d2f8","#9ccdf7","#93c5f0","#90bce4","#92b2d4","#97abc4","#9da6b3"]}, "legend": null},
  "stroke": {"field": "l", "type": "ordinal", "scale": {"domain": [1,2,3,4,5,6,7,8,9], "range": ["rgba(0,0,0,0)","rgba(90,130,170,0.15)","rgba(90,130,170,0.22)","rgba(90,120,150,0.3)","rgba(90,110,130,0.4)","rgba(90,105,120,0.45)","rgba(90,105,120,0.5)","rgba(90,105,120,0.5)","rgba(90,105,120,0.55)"]}, "legend": null},
  "detail": {"field": "g"},
  "order": {"value": null}
 }},
{"data": {"name": "VECL"}, "width": 251, "height": 216, "title": "VECL",
 "mark": {"type": "line", "interpolate": "cardinal-closed", "strokeWidth": 0.7},
 "encoding": {
  "x": {"field": "x", "type": "quantitative", "scale": {"domain": [-0.29, 6.16], "nice": false, "zero": false}, "axis": {"values": [0, 2, 4, 6], "title": "Qualidade"}},
  "y": {"field": "y", "type": "quantitative", "scale": {"domain": [-0.85, 6.88], "nice": false, "zero": false}, "axis": {"values": [0, 2, 4, 6], "title": null, "labels": false}},
  "fill": {"field": "l", "type": "ordinal", "scale": {"domain": [1,2,3,4,5,6,7,8,9], "range": ["#cddff5","#bad7f6","#a9d2f8","#9ccdf7","#93c5f0","#90bce4","#92b2d4","#97abc4","#9da6b3"]}, "legend": null},
  "stroke": {"field": "l", "type": "ordinal", "scale": {"domain": [1,2,3,4,5,6,7,8,9], "range": ["rgba(0,0,0,0)","rgba(90,130,170,0.15)","rgba(90,130,170,0.22)","rgba(90,120,150,0.3)","rgba(90,110,130,0.4)","rgba(90,105,120,0.45)","rgba(90,105,120,0.5)","rgba(90,105,120,0.5)","rgba(90,105,120,0.55)"]}, "legend": null},
  "detail": {"field": "g"},
  "order": {"value": null}
 }},
{"data": {"name": "VECLA"}, "width": 251, "height": 216, "title": "VECL-A",
 "mark": {"type": "line", "interpolate": "cardinal-closed", "strokeWidth": 0.7},
 "encoding": {
  "x": {"field": "x", "type": "quantitative", "scale": {"domain": [-0.10, 5.08], "nice": false, "zero": false}, "axis": {"values": [0, 1, 2, 3, 4, 5], "title": "Qualidade"}},
  "y": {"field": "y", "type": "quantitative", "scale": {"domain": [-0.85, 6.88], "nice": false, "zero": false}, "axis": {"values": [0, 2, 4, 6], "title": "Similaridade de Emoção"}},
  "fill": {"field": "l", "type": "ordinal", "scale": {"domain": [1,2,3,4,5,6,7,8,9], "range": ["#cddff5","#bad7f6","#a9d2f8","#9ccdf7","#93c5f0","#90bce4","#92b2d4","#97abc4","#9da6b3"]}, "legend": null},
  "stroke": {"field": "l", "type": "ordinal", "scale": {"domain": [1,2,3,4,5,6,7,8,9], "range": ["rgba(0,0,0,0)","rgba(90,130,170,0.15)","rgba(90,130,170,0.22)","rgba(90,120,150,0.3)","rgba(90,110,130,0.4)","rgba(90,105,120,0.45)","rgba(90,105,120,0.5)","rgba(90,105,120,0.5)","rgba(90,105,120,0.55)"]}, "legend": null},
  "detail": {"field": "g"},
  "order": {"value": null}
 }}
],
"columns": 2,
"spacing": {"row": 75, "column": 20},
"bounds": "flush",
"resolve": {"scale": {"x": "independent", "y": "independent"}},
"config": {
 "font": "DejaVu Sans",
 "view": {"stroke": null},
 "axis": {"grid": false, "domainColor": "#1a1a1a", "domainWidth": 1.1, "tickColor": "#1a1a1a", "tickWidth": 1.1, "tickSize": 4.9, "labelFontSize": 13.9, "labelColor": "#000", "labelFont": "DejaVu Sans", "titleFont": "DejaVu Sans", "titleFontSize": 13.9, "titleFontWeight": "normal", "titleColor": "#000", "labelPadding": 4, "titlePadding": 5, "labelFlush": false, "labelOverlap": false},
 "axisY": {"titlePadding": 7},
 "title": {"fontSize": 13.9, "fontWeight": "bold", "font": "DejaVu Sans", "offset": 5, "color": "#000"}
}
}
